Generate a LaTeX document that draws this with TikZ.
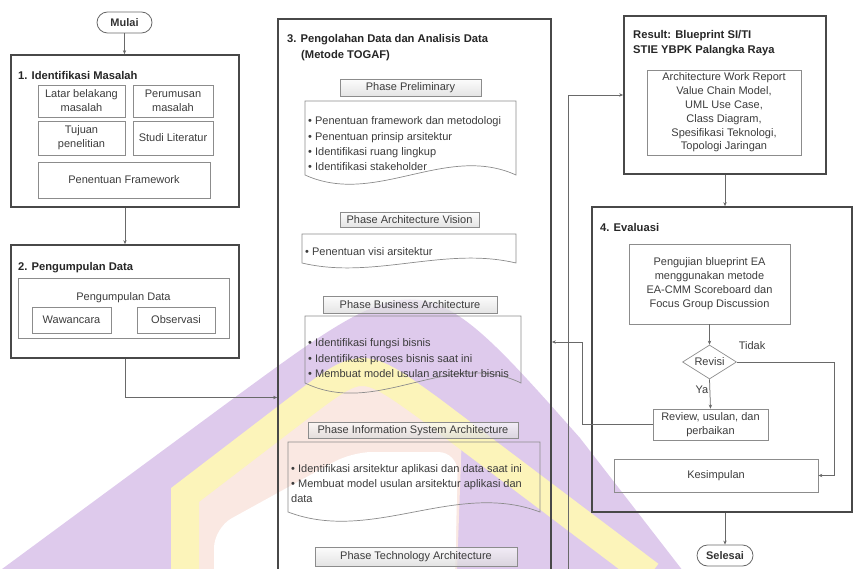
\documentclass[tikz,border=0pt]{standalone}
\usepackage{fontspec}
\setmainfont{Liberation Sans}
\usetikzlibrary{arrows.meta,shapes.geometric}

\definecolor{frameC}{RGB}{72,72,72}
\definecolor{boxC}{RGB}{140,140,140}
\definecolor{lineC}{RGB}{105,105,105}
\definecolor{txtC}{RGB}{60,60,60}
\definecolor{wmPurple}{RGB}{222,202,236}
\definecolor{wmYellow}{RGB}{252,244,186}
\definecolor{wmPeach}{RGB}{250,232,226}

% outline of a "document" symbol: flat top, wavy bottom
\newcommand\docoutline[5]{%
  \draw[doc] (#1,#3) -- (#2,#3) -- (#2,#4)
    .. controls ({#2-(#2-#1)/3},{#4-#5}) and ({#1+(#2-#1)/3},{#4+#5}) .. (#1,#4) -- cycle;}

\begin{document}
\begin{tikzpicture}[x=1pt,y=-1pt,
  every node/.style={font=\fontsize{11}{14}\selectfont, text=txtC},
  frame/.style={draw=frameC, line width=1.7pt, inner sep=0pt},
  inbox/.style={draw=boxC, line width=0.7pt, align=center, inner sep=0pt},
  head/.style={draw=boxC, line width=0.7pt, top color=gray!3, bottom color=gray!30,
    fill opacity=0.7, text opacity=1, inner sep=0pt},
  doc/.style={draw=boxC, line width=0.7pt},
  bullets/.style={align=left, anchor=north west, inner sep=0pt,
    font=\fontsize{11}{15.4}\selectfont},
  ttl/.style={anchor=base west, inner sep=0pt,
    font=\fontsize{11.2}{14}\selectfont\bfseries, text=black!85},
  term/.style={draw=lineC, line width=0.8pt, rounded corners=10.5pt, inner sep=0pt,
    font=\fontsize{11}{14}\selectfont\bfseries, text=black!80},
  decision/.style={diamond, draw=boxC, line width=0.7pt, aspect=1.6,
    minimum width=54pt, minimum height=34pt, inner sep=0pt},
  link/.style={draw=lineC, line width=0.75pt},
  arr/.style={-{Stealth[length=4pt,width=3.4pt]}},
]
\useasboundingbox (0,0) rectangle (856,569);

% ---- background logo ----
\begin{scope}
  \clip (0,0) rectangle (856,569);
  \fill[wmPurple] (0,570.5) -- (230,401) .. controls (422,260) .. (580,438)
    -- (690,580) -- (0,580) -- cycle;
  \fill[wmPeach] (185,600) -- (185,495) -- (300,407) .. controls (362,360) .. (430,409)
    -- (462,432) -- (456,600) -- cycle;
  \fill[white, rounded corners=20pt] (214,620) -- (214,528) -- (352,452) -- (458,452)
    -- (454,620) -- cycle;
  \draw[wmYellow, line width=28pt] (185,620) -- (185,495) -- (300,407)
    .. controls (362,360) .. (430,409) -- (650,575);
\end{scope}

% ---- start ----
\node[term, minimum width=55pt, minimum height=21pt] (mulai) at (124.5,22.5) {Mulai};

% ---- 1. problem identification ----
\node[frame, minimum width=228pt, minimum height=152pt] (idm) at (125,131) {};
\node[ttl] (idmT) at (18,80) {1. Identifikasi Masalah};
\node[inbox, minimum width=87pt, minimum height=32pt] (latar) at (81.5,101) {Latar belakang\\masalah};
\node[inbox, minimum width=80pt, minimum height=32pt] (rumus) at (173,101) {Perumusan\\masalah};
\node[inbox, minimum width=87pt, minimum height=34pt] (tujuan) at (81.5,138) {Tujuan\\penelitian};
\node[inbox, minimum width=80pt, minimum height=34pt] (studi) at (173,138) {Studi Literatur};
\node[inbox, minimum width=172pt, minimum height=36pt] (fw) at (124,180) {Penentuan Framework};

% ---- 2. data collection ----
\node[frame, minimum width=228pt, minimum height=113pt] (pd) at (125,301.5) {};
\node[ttl] (pdT) at (18,270) {2. Pengumpulan Data};
\node[inbox, minimum width=211pt, minimum height=60pt] (pdIn) at (123.5,308) {};
\node (pdL) at (123.5,298) {Pengumpulan Data};
\node[inbox, minimum width=79pt, minimum height=26pt] (waw) at (71.5,320) {Wawancara};
\node[inbox, minimum width=78pt, minimum height=26pt] (obs) at (176,320) {Observasi};

% ---- 3. processing and analysis (TOGAF) ----
\node[frame, minimum width=273pt, minimum height=600pt] (olah) at (414.5,319) {};
\node[ttl] (olahT1) at (287,43) {3. Pengolahan Data dan Analisis Data};
\node[ttl] (olahT2) at (301,59) {(Metode TOGAF)};

\node[head, minimum width=141pt, minimum height=17pt] (hPre) at (410.5,87.5) {Phase Preliminary};
\docoutline{305}{516}{101}{175}{32}
\node[bullets] (bPre) at (308,116.5) {• Penentuan framework dan metodologi\\• Penentuan prinsip arsitektur\\• Identifikasi ruang lingkup\\• Identifikasi stakeholder};

\node[head, minimum width=139pt, minimum height=15pt] (hVis) at (409.5,219.5) {Phase Architecture Vision};
\docoutline{302}{516}{234}{263}{17}
\node[bullets] (bVis) at (305,247.5) {• Penentuan visi arsitektur};

\node[head, minimum width=174pt, minimum height=17pt] (hBus) at (410,304.5) {Phase Business Architecture};
\docoutline{305}{521}{316}{383}{35}
\node[bullets] (bBus) at (308,338.5) {• Identifikasi fungsi bisnis\\• Identifikasi proses bisnis saat ini\\• Membuat model usulan arsitektur bisnis};

\node[head, minimum width=210pt, minimum height=16pt] (hIS) at (413,430.5) {Phase Information System Architecture};
\docoutline{288}{540}{442}{512}{32}
\node[bullets, font=\fontsize{11}{15}\selectfont] (bIS) at (291,464.5) {• Identifikasi arsitektur aplikasi dan data saat ini\\• Membuat model usulan arsitektur aplikasi dan\\data};

\node[head, minimum width=202pt, minimum height=19pt] (hTech) at (416,556.5) {Phase Technology Architecture};

% ---- result ----
\node[frame, minimum width=202pt, minimum height=158pt] (res) at (725,95) {};
\node[ttl] (resT1) at (633,39) {Result: Blueprint SI/TI};
\node[ttl] (resT2) at (633,54) {STIE YBPK Palangka Raya};
\node[inbox, minimum width=154pt, minimum height=85pt, font=\fontsize{11}{13.8}\selectfont] (resIn) at (724,112.5)
  {Architecture Work Report\\Value Chain Model,\\UML Use Case,\\Class Diagram,\\Spesifikasi Teknologi,\\Topologi Jaringan};

% ---- 4. evaluation ----
\node[frame, minimum width=260pt, minimum height=305pt] (eval) at (722,359.5) {};
\node[ttl] (evalT) at (600,232) {4. Evaluasi};
\node[inbox, minimum width=161pt, minimum height=80pt] (uji) at (709.5,284)
  {Pengujian blueprint EA\\menggunakan metode\\EA-CMM Scoreboard dan\\Focus Group Discussion};
\node[decision] (rev) at (709.5,362) {Revisi};
\node[inbox, minimum width=115pt, minimum height=31pt] (perb) at (710.5,424.5) {Review, usulan, dan\\perbaikan};
\node[inbox, minimum width=204pt, minimum height=33pt] (kes) at (716,475.5) {Kesimpulan};
\node (tidak) at (752,346) {Tidak};
\node (ya) at (702,390) {Ya};

% ---- end ----
\node[term, minimum width=56pt, minimum height=21pt] (sel) at (725,555.5) {Selesai};

% ---- connectors ----
\coordinate (inY) at (200,397.5);
\coordinate (feed) at (568,600);
\coordinate (tidakX) at (834,362);
\coordinate (jog) at (582,342);

\draw[link,arr] (mulai.south) -- (mulai.south |- idm.north);
\draw[link,arr] (idm.south) -- (pd.north);
\draw[link,arr] (pd.south) |- (olah.west |- inY);
\draw[link,arr] (feed) |- (res.west);
\draw[link,arr] (res.south) -- (res.south |- eval.north);
\draw[link,arr] (uji.south) -- (rev.north);
\draw[link,arr] (rev.east) -- (tidakX) |- (kes.east);
\draw[link,arr] (rev.south) -- (perb.north);
\draw[link,arr] (perb.west) -| (jog) -- (olah.east |- jog);
\draw[link,arr] (sel.north |- eval.south) -- (sel.north);
\end{tikzpicture}
\end{document}
